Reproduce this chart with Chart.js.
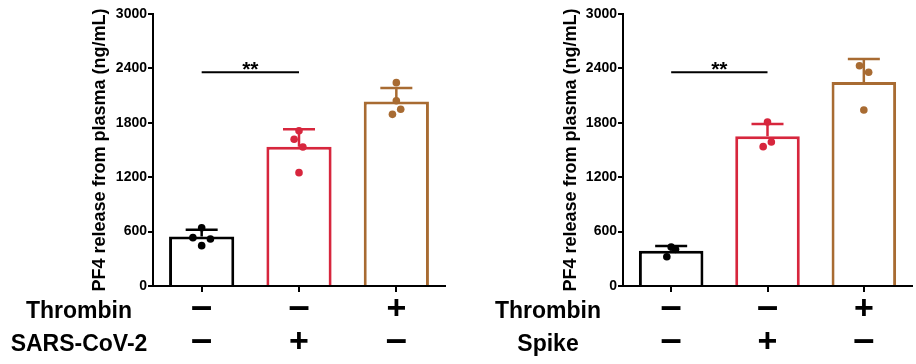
<!DOCTYPE html>
<html>
<head>
<meta charset="utf-8">
<script src="https://cdn.jsdelivr.net/npm/chart.js@4"></script>
<style>
    body { margin: 0; background: #fff; }
    .wrap { display: flex; width: 916px; height: 364px; }
    canvas { display: block; }
</style>
</head>
<body>
<div class="wrap">
    <canvas id="left-panel" width="458" height="364"></canvas>
    <canvas id="right-panel" width="458" height="364"></canvas>
</div>
<script>
// groups on the x axis (order of the bars)
const groups = ['Control', 'Virus', 'Thrombin'];
const barColors = ['#000000', '#d7263d', '#a86b32'];
const yTicks = [0, 600, 1200, 1800, 2400, 3000];
const yTitle = 'PF4 release from plasma (ng/mL)';

// left panel: SARS-CoV-2
const leftMeans = [545, 1535, 2035];
const leftErr = [75, 193, 150];
const leftPoints = [[643, 533, 518, 445], [1713, 1618, 1533, 1250], [2243, 2044, 1949, 1893]];
const leftJitter = [[0, -0.09, 0.09, 0], [0, -0.05, 0.04, 0], [0, 0, 0.045, -0.04]];
const leftRowNames = ['Thrombin', 'SARS-CoV-2'];
const leftRows = [['−', '−', '+'], ['−', '+', '−']];
const leftSig = { from: 0, to: 1, y: 2357, text: '**' };

// right panel: Spike
const rightMeans = [390, 1651, 2250];
const rightErr = [51, 136, 254];
const rightPoints = [[430, 404, 323], [1809, 1588, 1537], [2430, 2357, 1941]];
const rightJitter = [[0, 0.045, -0.045], [0, 0.04, -0.045], [-0.045, 0.05, 0]];
const rightRowNames = ['Thrombin', 'Spike'];
const rightRows = [['−', '−', '+'], ['−', '+', '−']];
const rightSig = { from: 0, to: 1, y: 2357, text: '**' };

const FONT = "'Liberation Sans', Arial, Helvetica, sans-serif";

// draws error bars, the significance bar and the +/- table under the axis
const extrasPlugin = {
    id: 'extras',
    afterDatasetDraw(chart, args, opts) {
        if (args.index !== 0) return;
        const ctx = chart.ctx;
        const x = chart.scales.x;
        const y = chart.scales.y;
        ctx.save();
        opts.means.forEach((m, i) => {
            const cx = x.getPixelForValue(i);
            const top = y.getPixelForValue(m + opts.err[i]);
            const base = y.getPixelForValue(m);
            ctx.strokeStyle = barColors[i];
            ctx.lineWidth = 2.5;
            ctx.beginPath();
            ctx.moveTo(cx, base);
            ctx.lineTo(cx, top);
            ctx.moveTo(cx - 16, top);
            ctx.lineTo(cx + 16, top);
            ctx.stroke();
        });
        ctx.restore();
    },
    afterDraw(chart, args, opts) {
        const ctx = chart.ctx;
        const x = chart.scales.x;
        const y = chart.scales.y;
        const area = chart.chartArea;
        ctx.save();
        // significance
        const s = opts.sig;
        const sy = y.getPixelForValue(s.y);
        const x1 = x.getPixelForValue(s.from);
        const x2 = x.getPixelForValue(s.to);
        ctx.strokeStyle = '#000';
        ctx.lineWidth = 2;
        ctx.beginPath();
        ctx.moveTo(x1, sy);
        ctx.lineTo(x2, sy);
        ctx.stroke();
        ctx.fillStyle = '#000';
        ctx.textAlign = 'center';
        ctx.textBaseline = 'alphabetic';
        ctx.font = 'bold 21px ' + FONT;
        ctx.fillText(s.text, (x1 + x2) / 2, sy + 4);

        // treatment table
        const rowY = [area.bottom + 24, area.bottom + 57];
        ctx.textBaseline = 'middle';
        opts.rowNames.forEach((name, r) => {
            ctx.font = 'bold 23px ' + FONT;
            ctx.fillText(name, opts.nameX, rowY[r] + 2);
            opts.rows[r].forEach((sign, i) => {
                if (sign === '+') {
                    ctx.font = 'bold 34px ' + FONT;
                    ctx.fillText('+', x.getPixelForValue(i), rowY[r]);
                } else {
                    ctx.font = 'bold 38px ' + FONT;
                    ctx.fillText('–', x.getPixelForValue(i), rowY[r] - 1);
                }
            });
        });
        ctx.restore();
    }
};

function makePanel(id, means, err, points, jitter, rowNames, rows, sig, layout) {
    var ctx = document.getElementById(id).getContext('2d');

    var datasets = [{
        type: 'bar',
        data: means,
        backgroundColor: '#ffffff',
        borderColor: barColors,
        borderWidth: 3,
        borderSkipped: 'bottom',
        barPercentage: 0.67,
        categoryPercentage: 1,
        grouped: false,
        order: 2
    }];

    points.forEach((vals, g) => {
        datasets.push({
            type: 'scatter',
            xAxisID: 'xj',
            data: vals.map((v, k) => ({ x: g + jitter[g][k], y: v })),
            pointRadius: 3.8,
            pointBackgroundColor: barColors[g],
            pointBorderWidth: 0,
            order: 1
        });
    });

    var options = {
        responsive: false,
        animation: false,
        layout: {
            padding: { left: layout.padLeft, right: layout.padRight, top: 14, bottom: 0 }
        },
        plugins: {
            legend: { display: false },
            tooltip: { enabled: false },
            extras: {
                means: means,
                err: err,
                sig: sig,
                rowNames: rowNames,
                rows: rows,
                nameX: layout.nameX
            }
        },
        scales: {
            x: {
                type: 'category',
                labels: groups,
                offset: true,
                border: { color: '#000', width: 2 },
                grid: {
                    offset: false,
                    drawOnChartArea: false,
                    drawTicks: true,
                    tickLength: 6,
                    color: '#000',
                    lineWidth: 2
                },
                ticks: { display: false },
                afterFit: function (scale) { scale.height = 78; }
            },
            xj: {
                type: 'linear',
                display: false,
                offset: false,
                min: -0.5,
                max: 2.5
            },
            y: {
                min: 0,
                max: 3000,
                afterBuildTicks: function (scale) {
                    scale.ticks = yTicks.map(v => ({ value: v }));
                },
                border: { color: '#000', width: 2 },
                grid: {
                    drawOnChartArea: false,
                    tickLength: 5,
                    color: '#000',
                    lineWidth: 2
                },
                ticks: {
                    color: '#000',
                    padding: 1,
                    font: { family: FONT, size: 14, weight: 'bold' },
                    callback: value => String(value)
                },
                title: {
                    display: true,
                    text: yTitle,
                    color: '#000',
                    padding: 4,
                    font: { family: FONT, size: 18, weight: 'bold' }
                },
                afterFit: function (scale) { scale.width = layout.yWidth; }
            }
        }
    };

    return new Chart(ctx, {
        type: 'bar',
        data: { labels: groups, datasets: datasets },
        options: options,
        plugins: [extrasPlugin]
    });
}

makePanel('left-panel', leftMeans, leftErr, leftPoints, leftJitter, leftRowNames, leftRows, leftSig,
    { padLeft: 85, yWidth: 68, padRight: 13, nameX: 79 });
makePanel('right-panel', rightMeans, rightErr, rightPoints, rightJitter, rightRowNames, rightRows, rightSig,
    { padLeft: 98, yWidth: 67, padRight: 3, nameX: 90 });
</script>
</body>
</html>
